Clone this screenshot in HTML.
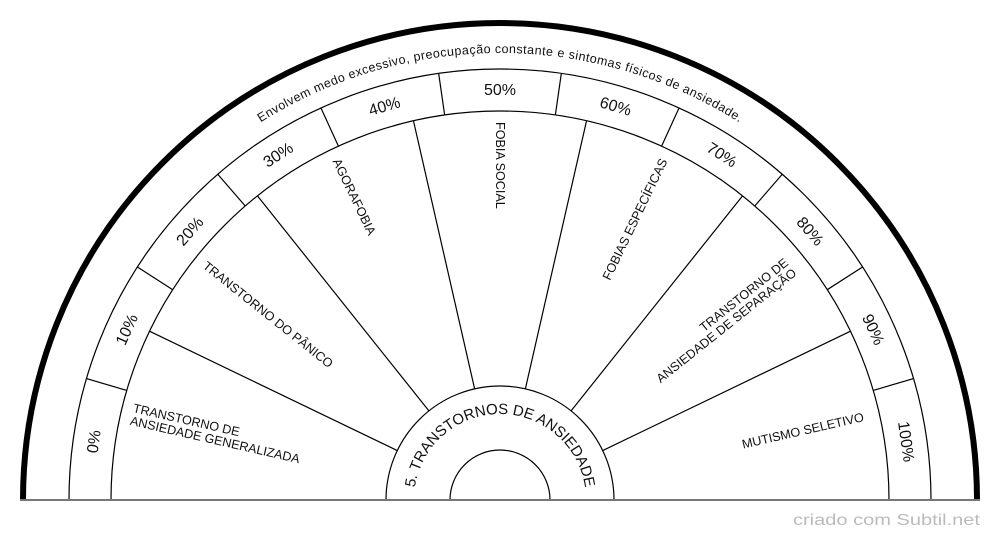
<!DOCTYPE html>
<html><head><meta charset="utf-8"><style>
html,body{margin:0;padding:0;background:#fff;}
svg{display:block;font-family:"Liberation Sans",Arial,sans-serif;}
</style></head><body>
<svg width="1000" height="540" viewBox="0 0 1000 540">
<defs>
<path id="top" d="M53,500 A447,447 0 0 1 947,500"/>
<path id="hub" d="M414,500 A86,86 0 0 1 586,500"/>
</defs>
<g fill="none" stroke="#000" stroke-width="1.2">
<path d="M69,500 A431,431 0 0 1 931,500"/>
<path d="M111,500 A389,389 0 0 1 889,500"/>
<path d="M386,500 A114,114 0 0 1 614,500"/>
<path d="M450,500 A50,50 0 0 1 550,500"/>
<path d="M23,500 A477,477 0 0 1 977,500" stroke-width="6"/>
<g>
<line x1="111" y1="500" x2="69" y2="500" transform="rotate(16.364 500 500)"/>
<line x1="111" y1="500" x2="69" y2="500" transform="rotate(32.727 500 500)"/>
<line x1="111" y1="500" x2="69" y2="500" transform="rotate(49.091 500 500)"/>
<line x1="111" y1="500" x2="69" y2="500" transform="rotate(65.455 500 500)"/>
<line x1="111" y1="500" x2="69" y2="500" transform="rotate(81.818 500 500)"/>
<line x1="111" y1="500" x2="69" y2="500" transform="rotate(98.182 500 500)"/>
<line x1="111" y1="500" x2="69" y2="500" transform="rotate(114.545 500 500)"/>
<line x1="111" y1="500" x2="69" y2="500" transform="rotate(130.909 500 500)"/>
<line x1="111" y1="500" x2="69" y2="500" transform="rotate(147.273 500 500)"/>
<line x1="111" y1="500" x2="69" y2="500" transform="rotate(163.636 500 500)"/>
</g>
<g>
<line x1="386" y1="500" x2="111" y2="500" transform="rotate(25.714 500 500)"/>
<line x1="386" y1="500" x2="111" y2="500" transform="rotate(51.429 500 500)"/>
<line x1="386" y1="500" x2="111" y2="500" transform="rotate(77.143 500 500)"/>
<line x1="386" y1="500" x2="111" y2="500" transform="rotate(102.857 500 500)"/>
<line x1="386" y1="500" x2="111" y2="500" transform="rotate(128.571 500 500)"/>
<line x1="386" y1="500" x2="111" y2="500" transform="rotate(154.286 500 500)"/>
</g>
</g>
<line x1="20" y1="500" x2="980" y2="500" stroke="#777" stroke-width="2"/>
<g font-size="16" text-anchor="middle" fill="#111">
<text x="500" y="95" transform="rotate(-81.818 500 500)">0%</text>
<text x="500" y="95" transform="rotate(-65.455 500 500)">10%</text>
<text x="500" y="95" transform="rotate(-49.091 500 500)">20%</text>
<text x="500" y="95" transform="rotate(-32.727 500 500)">30%</text>
<text x="500" y="95" transform="rotate(-16.364 500 500)">40%</text>
<text x="500" y="95">50%</text>
<text x="500" y="95" transform="rotate(16.364 500 500)">60%</text>
<text x="500" y="95" transform="rotate(32.727 500 500)">70%</text>
<text x="500" y="95" transform="rotate(49.091 500 500)">80%</text>
<text x="500" y="95" transform="rotate(65.455 500 500)">90%</text>
<text x="500" y="95" transform="rotate(81.818 500 500)">100%</text>
</g>
<g font-size="12.6" fill="#111">
<text transform="rotate(12.857 500 500)"><tspan x="122" y="496">TRANSTORNO DE</tspan><tspan x="122" y="509">ANSIEDADE GENERALIZADA</tspan></text>
<text x="122" y="504" transform="rotate(38.571 500 500)">TRANSTORNO DO PÂNICO</text>
<text x="122" y="504" transform="rotate(64.286 500 500)">AGORAFOBIA</text>
<text x="122" y="504" transform="rotate(90 500 500)">FOBIA SOCIAL</text>
<text x="878" y="504" text-anchor="end" transform="rotate(-64.286 500 500)">FOBIAS ESPECÍFICAS</text>
<text text-anchor="end" transform="rotate(-38.571 500 500)"><tspan x="873" y="496">TRANSTORNO DE</tspan><tspan x="873" y="509">ANSIEDADE DE SEPARAÇÃO</tspan></text>
<text x="873" y="504" text-anchor="end" transform="rotate(-12.857 500 500)">MUTISMO SELETIVO</text>
</g>
<text font-size="12.5" fill="#111"><textPath href="#top" startOffset="50%" text-anchor="middle" textLength="505" lengthAdjust="spacing">Envolvem medo excessivo, preocupação constante e sintomas físicos de ansiedade.</textPath></text>
<text font-size="15" fill="#111"><textPath href="#hub" startOffset="50%" text-anchor="middle" textLength="245" lengthAdjust="spacing">5. TRANSTORNOS DE ANSIEDADE</textPath></text>
<text x="793" y="525" font-size="16" fill="#bbb" textLength="187" lengthAdjust="spacingAndGlyphs">criado com Subtil.net</text>
</svg>
</body></html>
